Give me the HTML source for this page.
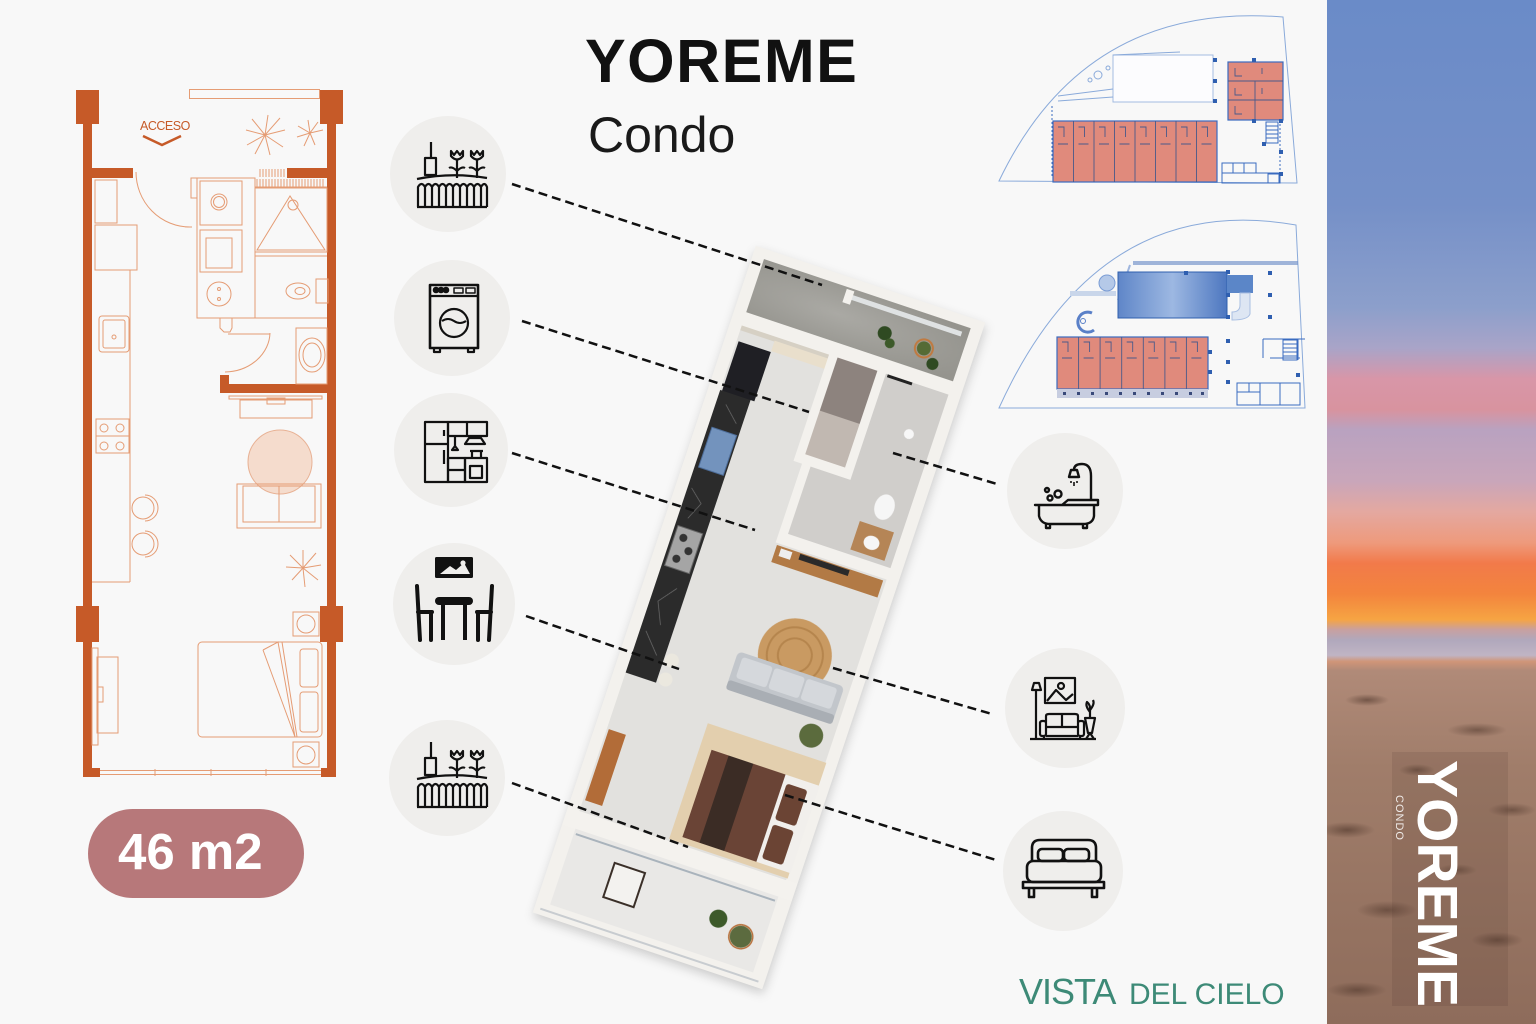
<!DOCTYPE html>
<html><head><meta charset="utf-8">
<style>
html,body{margin:0;padding:0;}
body{width:1536px;height:1024px;overflow:hidden;background:#f8f8f8;position:relative;font-family:"Liberation Sans",sans-serif;}
svg{position:absolute;left:0;top:0;}
#strip{position:absolute;left:1327px;top:0;width:209px;height:1024px;
background:linear-gradient(180deg,#6a8bc8 0%,#7590c8 20%,#8c9fcb 30%,#a9a4c8 34%,#d896a8 37%,#d8939f 40%,#b9a2c0 42%,#c9a6ba 47%,#e4a8a0 50%,#ee9a7c 53%,#f27a4a 55%,#f3843d 58%,#f6a443 60.5%,#c8a0a0 61.5%,#b0a8bc 62.5%,#c0b4c4 64%,#d09578 64.6%,#b08a78 65.5%,#a07d6a 75%,#8e6c5b 100%);}
#sand{position:absolute;left:1327px;top:660px;width:209px;height:364px;
background:
radial-gradient(ellipse 22px 6px at 40px 40px,rgba(60,38,28,.5),transparent),
radial-gradient(ellipse 30px 7px at 150px 70px,rgba(60,38,28,.45),transparent),
radial-gradient(ellipse 18px 6px at 90px 110px,rgba(60,38,28,.45),transparent),
radial-gradient(ellipse 28px 8px at 20px 170px,rgba(60,38,28,.5),transparent),
radial-gradient(ellipse 24px 7px at 185px 150px,rgba(60,38,28,.45),transparent),
radial-gradient(ellipse 30px 9px at 60px 250px,rgba(60,38,28,.45),transparent),
radial-gradient(ellipse 26px 8px at 170px 280px,rgba(60,38,28,.45),transparent),
radial-gradient(ellipse 30px 8px at 30px 330px,rgba(60,38,28,.45),transparent),
radial-gradient(ellipse 20px 6px at 130px 210px,rgba(60,38,28,.4),transparent);}
#panel{position:absolute;left:1392px;top:752px;width:116px;height:254px;background:rgba(70,45,35,.13);}
#render{position:absolute;left:638px;top:265.5px;width:242px;height:703px;transform:rotate(18.5deg);transform-origin:121px 351.5px;filter:drop-shadow(2px 4px 5px rgba(0,0,0,.18));}
#render svg{position:static;display:block;}
</style></head><body>
<div id="strip"></div>
<div id="sand"></div>
<div id="panel"></div>

<svg width="1536" height="1024" viewBox="0 0 1536 1024">
<defs>
<linearGradient id="poolg" x1="0" y1="0" x2="1" y2="0">
<stop offset="0" stop-color="#5f86c8"/><stop offset=".5" stop-color="#9db8e2"/><stop offset="1" stop-color="#4d77c0"/>
</linearGradient>
</defs>

<!-- LEFT PLAN -->
<g fill="#c65a28">
<rect x="83" y="120" width="9" height="657"/>
<rect x="327" y="120" width="9" height="657"/>
<rect x="76" y="90" width="23" height="34"/>
<rect x="320" y="90" width="23" height="34"/>
<rect x="76" y="606" width="23" height="36"/>
<rect x="320" y="606" width="23" height="36"/>
<rect x="92" y="168" width="41" height="10"/>
<rect x="287" y="168" width="40" height="10"/>
<rect x="220" y="384" width="107" height="9"/>
<rect x="220" y="375" width="9" height="18"/>
<rect x="83" y="768" width="17" height="9"/>
<rect x="321" y="768" width="15" height="9"/>
</g>
<circle cx="280" cy="462" r="32" fill="#f5dccd" stroke="#e8b295" stroke-width="1"/>
<g fill="none" stroke="#e59c74" stroke-width="1">
<rect x="189.5" y="89.5" width="130" height="9"/>
<path d="M136,172 A54,55 0 0 0 190,227 M185,227 H192"/>
<rect x="95" y="180" width="22" height="43"/>
<rect x="95" y="225" width="42" height="45"/>
<path d="M130,270 V582 M92,582 H130"/>
<rect x="99" y="316" width="30" height="36" rx="3"/>
<rect x="103" y="320" width="22" height="28" rx="2"/>
<circle cx="114" cy="337" r="2"/>
<rect x="96" y="419" width="33" height="34"/>
<circle cx="104" cy="428" r="4"/><circle cx="120" cy="428" r="4"/>
<circle cx="104" cy="446" r="4"/><circle cx="120" cy="446" r="4"/>
<path d="M96,436 H129"/>
<circle cx="143" cy="508" r="11"/><circle cx="143" cy="544" r="11"/>
<path d="M145,495 A13,13 0 0 1 145,521 M145,531 A13,13 0 0 1 145,557"/>
<rect x="197" y="178" width="58" height="140"/>
<rect x="200" y="181" width="42" height="44"/>
<circle cx="219" cy="202" r="8"/><circle cx="219" cy="202" r="5.5"/>
<rect x="200" y="230" width="42" height="42"/>
<rect x="206" y="238" width="26" height="30"/>
<circle cx="219" cy="294" r="12"/>
<circle cx="219" cy="289" r="1.5"/><circle cx="219" cy="299" r="1.5"/>
<rect x="191" y="178" width="6" height="20"/>
<path d="M220,318 V328 L224,332 H230 L232,328 V318"/>
<path d="M228,334 H270"/>
<path d="M270,333 A46,40 0 0 1 225,372"/>
<rect x="255" y="188" width="72" height="64"/>
<path d="M290,196 L257,250 H325 Z"/>
<circle cx="293" cy="205" r="5"/>
<path d="M255,256 H327 M255,318 H327"/>
<ellipse cx="298" cy="291" rx="12" ry="8"/><ellipse cx="300" cy="291" rx="5" ry="3.5"/>
<rect x="316" y="279" width="12" height="24"/>
<rect x="296" y="328" width="31" height="56"/>
<ellipse cx="312" cy="355" rx="13" ry="17"/><ellipse cx="312" cy="355" rx="9" ry="12"/>
<rect x="229" y="396" width="93" height="3"/>
<rect x="240" y="400" width="72" height="18"/>
<rect x="267" y="398" width="18" height="6"/>
<rect x="237" y="484" width="84" height="44"/>
<rect x="243" y="486" width="72" height="36"/>
<path d="M279,486 V522"/>
<rect x="293" y="612" width="26" height="24"/><circle cx="306" cy="624" r="9"/>
<rect x="293" y="742" width="26" height="25"/><circle cx="306" cy="755" r="9"/>
<rect x="198" y="642" width="124" height="95" rx="4"/>
<rect x="300" y="649" width="18" height="38" rx="3"/>
<rect x="300" y="692" width="18" height="40" rx="3"/>
<path d="M263,650 L278,642 L295,737 L263,650 M282,642 L297,737"/>
<rect x="97" y="657" width="21" height="76"/>
<rect x="92" y="648" width="6" height="97"/>
<rect x="97" y="687" width="6" height="15"/>
<path d="M100,770.5 H321 M100,774.5 H321 M155,769 V776 M211,769 V776 M266,769 V776"/>
<path d="M260,169 V177 M263,169 V177 M266,169 V177 M269,169 V177 M272,169 V177 M275,169 V177 M278,169 V177 M281,169 V177 M284,169 V177"/>
<path d="M257,179 V187 M260,179 V187 M263,179 V187 M266,179 V187 M269,179 V187 M272,179 V187 M275,179 V187 M278,179 V187 M281,179 V187 M284,179 V187 M287,179 V187 M290,179 V187 M293,179 V187 M296,179 V187 M299,179 V187 M302,179 V187 M305,179 V187 M308,179 V187 M311,179 V187 M314,179 V187 M317,179 V187 M320,179 V187 M323,179 V187 M255,187 H327"/>
<path d="M265,135 L285,130 M265,135 L280,118 M265,135 L268,115 M265,135 L252,119 M265,135 L246,130 M265,135 L247,145 M265,135 L255,154 M265,135 L270,155 M265,135 L283,147"/>
<path d="M310,133 L323,130 M310,133 L318,122 M310,133 L308,120 M310,133 L298,126 M310,133 L297,137 M310,133 L304,146 M310,133 L315,145"/>
<path d="M303,568 L321,565 M303,568 L316,553 M303,568 L303,550 M303,568 L290,555 M303,568 L286,567 M303,568 L292,580 M303,568 L305,587 M303,568 L318,580"/>
</g>
<text x="140" y="130" font-size="12.5" fill="#c65a28" letter-spacing="-0.5">ACCESO</text>
<path d="M143,136 L162,145 L181,136" fill="none" stroke="#c65a28" stroke-width="2.5"/>

<!-- 46 m2 pill -->
<rect x="88" y="809" width="216" height="89" rx="44.5" fill="#b7787a"/>
<text x="118" y="869" font-size="51" font-weight="bold" fill="#ffffff">46 m2</text>

<!-- TITLE -->
<text x="585" y="82" font-size="61" font-weight="bold" fill="#111" letter-spacing="1.5">YOREME</text>
<text x="588" y="152" font-size="50" fill="#1a1a1a">Condo</text>

<!-- ICON CIRCLES -->
<g fill="#efeeec">
<circle cx="448" cy="174" r="58"/>
<circle cx="452" cy="318" r="58"/>
<circle cx="451" cy="450" r="57"/>
<circle cx="454" cy="604" r="61"/>
<circle cx="447" cy="778" r="58"/>
<circle cx="1065" cy="491" r="58"/>
<circle cx="1065" cy="708" r="60"/>
<circle cx="1063" cy="871" r="60"/>
</g>

<!-- garden icons -->
<g fill="none" stroke="#111" stroke-width="2.2" stroke-linejoin="round">
<g transform="translate(417,142)">
<path d="M14,0 V16 M8,16 H19 V33 H8 Z"/>
<path d="M34,9 L37,13 L40,9 L43,13 L46,9 L46,14 Q40,21 34,14 Z M40,18 V36 M40,29 Q35,24 32,26 M40,29 Q45,24 48,26"/>
<path d="M54,9 L57,13 L60,9 L63,13 L66,9 L66,14 Q60,21 54,14 Z M60,18 V36 M60,29 Q55,24 52,26 M60,29 Q65,24 68,26"/>
<path d="M0,37 Q35,30 70,36"/>
<path d="M1,65 V45 Q4.5,39 8,45 V65 M8,45 Q11.5,39 15,45 V65 M15,45 Q18.5,39 22,45 V65 M22,45 Q25.5,39 29,45 V65 M29,45 Q32.5,39 36,45 V65 M36,45 Q39.5,39 43,45 V65 M43,45 Q46.5,39 50,45 V65 M50,45 Q53.5,39 57,45 V65 M57,45 Q60.5,39 64,45 V65 M64,45 Q67.5,39 70,45 V65 M0,65 H70"/>
</g>
<g transform="translate(417,742)">
<path d="M14,0 V16 M8,16 H19 V33 H8 Z"/>
<path d="M34,9 L37,13 L40,9 L43,13 L46,9 L46,14 Q40,21 34,14 Z M40,18 V36 M40,29 Q35,24 32,26 M40,29 Q45,24 48,26"/>
<path d="M54,9 L57,13 L60,9 L63,13 L66,9 L66,14 Q60,21 54,14 Z M60,18 V36 M60,29 Q55,24 52,26 M60,29 Q65,24 68,26"/>
<path d="M0,37 Q35,30 70,36"/>
<path d="M1,65 V45 Q4.5,39 8,45 V65 M8,45 Q11.5,39 15,45 V65 M15,45 Q18.5,39 22,45 V65 M22,45 Q25.5,39 29,45 V65 M29,45 Q32.5,39 36,45 V65 M36,45 Q39.5,39 43,45 V65 M43,45 Q46.5,39 50,45 V65 M50,45 Q53.5,39 57,45 V65 M57,45 Q60.5,39 64,45 V65 M64,45 Q67.5,39 70,45 V65 M0,65 H70"/>
</g>
<!-- washer -->
<g transform="translate(430,285)">
<rect x="0" y="0" width="48" height="63" stroke-width="2.6"/>
<path d="M0,11 H48"/>
<rect x="24" y="3" width="9" height="5" stroke-width="1.5"/><rect x="36" y="3" width="9" height="5" stroke-width="1.5"/>
<circle cx="24" cy="38" r="14"/>
<path d="M12,36 Q18,32 24,36 T36,36" stroke-width="2"/>
<path d="M4,63 V67 H10 V63 M38,63 V67 H44 V63"/>
</g>
<g fill="#111"><circle cx="436" cy="290" r="2.2"/><circle cx="441" cy="290" r="2.2"/><circle cx="446" cy="290" r="2.2"/></g>
<!-- kitchen -->
<g transform="translate(425,422)">
<rect x="0" y="0" width="23" height="60"/>
<path d="M0,22 H23 M19,8 V14 M19,28 V42"/>
<rect x="23" y="0" width="39" height="14"/>
<path d="M42,0 V14"/>
<path d="M40,22 L44,16 H56 L60,22 Z"/>
<path d="M30,14 V24 M27,28 L30,24 L33,28 Z"/>
<rect x="23" y="36" width="17" height="24"/>
<path d="M23,48 H40"/>
<rect x="40" y="36" width="22" height="24"/>
<rect x="45" y="44" width="12" height="12"/>
<path d="M47,36 V29 H56 V36 M45,29 H58"/>
</g>
</g>
<!-- dining -->
<g fill="#111">
<rect x="435" y="557" width="38" height="21" rx="1.5"/>
<rect x="435" y="597" width="38" height="8" rx="4"/>
<rect x="441" y="604" width="4" height="36"/>
<rect x="463" y="604" width="4" height="36"/>
</g>
<path d="M440,574 L450,566 L456,570 L464,563 L470,574 Z" fill="#efeeec"/>
<circle cx="463" cy="563" r="2.6" fill="#efeeec"/>
<g fill="none" stroke="#111" stroke-width="4" stroke-linecap="round">
<path d="M417,586 L420,640 M418,612 H432 M431,613 V640"/>
<path d="M492,586 L489,640 M491,612 H477 M478,613 V640"/>
</g>
<!-- bath icon -->
<g fill="none" stroke="#111" stroke-width="2.4" stroke-linejoin="round">
<path d="M1035,505 H1062 L1068,500 H1098 V505 H1035 Z"/>
<path d="M1039,506 V516 Q1041,524 1050,524 H1083 Q1093,524 1094,516 V506"/>
<path d="M1046,524 V528 H1050 V524 M1083,524 V528 H1087 V524"/>
<path d="M1091,500 V476 Q1091,464 1082,464 Q1074,464 1074,470"/>
<path d="M1069,477 L1071,470 H1077 L1079,477 Z"/>
<circle cx="1047" cy="490" r="2"/><circle cx="1050" cy="498" r="2.5"/><circle cx="1058" cy="494" r="3.5"/>
<path d="M1071,481 V483 M1074,482 V486 M1077,481 V483" stroke-width="1.6"/>
</g>
<!-- living icon -->
<g fill="none" stroke="#111" stroke-width="2.2" stroke-linejoin="round">
<rect x="1045" y="678" width="30" height="25"/>
<path d="M1047,701 L1056,690 L1066,700 L1073,694"/>
<circle cx="1061" cy="686" r="3"/>
<path d="M1030,739 H1096"/>
<path d="M1036,690 V739 M1032,690 L1034,683 H1039 L1041,690 Z"/>
<path d="M1046,722 V716 Q1046,714 1049,714 H1075 Q1078,714 1078,716 V722"/>
<rect x="1040" y="721" width="6" height="15" rx="2"/><rect x="1078" y="721" width="6" height="15" rx="2"/>
<path d="M1046,727 H1078 M1062,714 V727 M1046,736 H1078 M1044,736 V739 M1080,736 V739"/>
<path d="M1085,718 H1095 L1092,733 H1088 Z M1090,733 L1086,739 M1090,733 L1094,739"/>
<path d="M1090,718 V708 M1090,712 Q1085,706 1087,702 Q1091,705 1090,712 M1090,710 Q1095,704 1093,700"/>
</g>
<!-- bed icon -->
<g fill="none" stroke="#111" stroke-width="2.6" stroke-linejoin="round">
<path d="M1032,860 V848 Q1032,840 1040,840 H1088 Q1096,840 1096,848 V860"/>
<rect x="1038" y="849" width="25" height="12" rx="4"/>
<rect x="1064" y="849" width="25" height="12" rx="4"/>
<rect x="1027" y="861" width="74" height="21" rx="6"/>
<rect x="1023" y="882" width="81" height="6"/>
<path d="M1029,888 V897 H1034 V888 M1092,888 V897 H1097 V888"/>
</g>

<!-- SITE PLAN 1 -->
<g fill="none" stroke="#8aaada" stroke-width="1">
<path d="M999,181 Q1085,1 1283,17 L1297,183 Z"/>
<rect x="1113" y="55" width="100" height="47" fill="#fcfcfe" stroke="#a3bbe1"/>
<path d="M1058,96 L1113,89 M1058,101 L1113,97 M1113,55 L1180,52"/>
<circle cx="1098" cy="75" r="4"/><circle cx="1090" cy="80" r="2"/><circle cx="1108" cy="68" r="2"/>
</g>
<rect x="1053" y="121" width="164" height="61" fill="#e08a7c" stroke="#3a6bc0" stroke-width="1.2"/>
<g stroke="#4a5a8a" stroke-width="0.9" fill="none">
<path d="M1073.5,121 V182 M1094,121 V182 M1114.5,121 V182 M1135,121 V182 M1155.5,121 V182 M1176,121 V182 M1196.5,121 V182"/>
<path d="M1058,127 H1064 V137 M1078.5,127 H1084.5 V137 M1099,127 H1105 V137 M1119.5,127 H1125.5 V137 M1140,127 H1146 V137 M1160.5,127 H1166.5 V137 M1181,127 H1187 V137 M1201.5,127 H1207.5 V137"/>
<path d="M1058,144 H1068 M1078.5,144 H1088.5 M1099,144 H1109 M1119.5,144 H1129.5 M1140,144 H1150 M1160.5,144 H1170.5 M1181,144 H1191 M1201.5,144 H1211.5"/>
</g>
<rect x="1228" y="62" width="55" height="58" fill="#e08a7c" stroke="#3a6bc0" stroke-width="1.2"/>
<g stroke="#4a5a8a" stroke-width="0.9" fill="none">
<path d="M1228,81 H1283 M1228,100 H1283 M1255,81 V120 M1235,68 V76 H1242 M1235,88 V95 H1242 M1235,106 V114 H1242 M1262,68 V74 M1262,88 V94"/>
</g>
<g stroke="#3a6bc0" stroke-width="1" fill="none">
<path d="M1280,120 V183 M1052,106 V177" stroke-dasharray="2 2"/>
<rect x="1222" y="163" width="34" height="10"/>
<path d="M1233,163 V173 M1244,163 V173"/>
<rect x="1222" y="173" width="58" height="10"/>
<rect x="1268" y="174" width="11" height="9"/>
<rect x="1266" y="122" width="12" height="21"/>
<path d="M1266,126 H1278 M1266,130 H1278 M1266,134 H1278 M1266,138 H1278"/>
</g>
<g fill="#2f5fb0">
<rect x="1213" y="58" width="4" height="4"/><rect x="1213" y="79" width="4" height="4"/><rect x="1213" y="99" width="4" height="4"/>
<rect x="1252" y="58" width="4" height="4"/><rect x="1252" y="119" width="4" height="4"/><rect x="1279" y="119" width="4" height="4"/>
<rect x="1262" y="142" width="4" height="4"/><rect x="1279" y="150" width="4" height="4"/><rect x="1279" y="172" width="4" height="4"/>
</g>

<!-- SITE PLAN 2 -->
<g fill="none" stroke="#8aaada" stroke-width="1">
<path d="M999,408 Q1098,190 1296,225 L1305,408 Z"/>
</g>
<rect x="1133" y="261" width="165" height="4" fill="#6f8fc8" opacity=".65"/>
<path d="M1130,265 L1118,300" stroke="#9fb6de" stroke-width="2" fill="none"/>
<rect x="1070" y="291" width="46" height="5" fill="#c9d6ea"/>
<circle cx="1107" cy="283" r="8" fill="#b5c9e8" stroke="#7a9cd4"/>
<path d="M1092,313 A10,10 0 1 0 1094,330" fill="none" stroke="#5a80c8" stroke-width="3"/>
<circle cx="1083" cy="321" r="2.5" fill="none" stroke="#5a80c8"/>
<rect x="1118" y="272" width="109" height="46" fill="url(#poolg)" stroke="#2f5fae"/>
<rect x="1227" y="275" width="26" height="18" fill="#5b86c8"/>
<path d="M1240,293 H1250 V314 Q1248,320 1232,320 V312 Q1240,312 1240,305 Z" fill="#dde6f3" stroke="#a9bfe2"/>
<rect x="1057" y="337" width="151" height="52" fill="#e08a7c" stroke="#3a6bc0" stroke-width="1.2"/>
<g stroke="#4a5a8a" stroke-width="0.9" fill="none">
<path d="M1078.6,337 V389 M1100.1,337 V389 M1121.7,337 V389 M1143.3,337 V389 M1164.9,337 V389 M1186.4,337 V389"/>
<path d="M1062,342 H1068 V352 M1083.6,342 H1089.6 V352 M1105.1,342 H1111.1 V352 M1126.7,342 H1132.7 V352 M1148.3,342 H1154.3 V352 M1169.9,342 H1175.9 V352 M1191.4,342 H1197.4 V352"/>
<path d="M1062,358 H1072 M1083.6,358 H1093.6 M1105.1,358 H1115.1 M1126.7,358 H1136.7 M1148.3,358 H1158.3 M1169.9,358 H1179.9 M1191.4,358 H1201.4"/>
</g>
<rect x="1057" y="389" width="151" height="9" fill="#c7cde0"/>
<g fill="#3a4a7a">
<rect x="1063" y="392" width="3" height="3"/><rect x="1077" y="392" width="3" height="3"/><rect x="1091" y="392" width="3" height="3"/><rect x="1105" y="392" width="3" height="3"/><rect x="1119" y="392" width="3" height="3"/><rect x="1133" y="392" width="3" height="3"/><rect x="1147" y="392" width="3" height="3"/><rect x="1161" y="392" width="3" height="3"/><rect x="1175" y="392" width="3" height="3"/><rect x="1189" y="392" width="3" height="3"/><rect x="1201" y="392" width="3" height="3"/>
</g>
<g fill="#2f5fb0">
<rect x="1184" y="271" width="4" height="4"/><rect x="1226" y="270" width="4" height="4"/><rect x="1268" y="271" width="4" height="4"/>
<rect x="1226" y="293" width="4" height="4"/><rect x="1268" y="293" width="4" height="4"/>
<rect x="1226" y="315" width="4" height="4"/><rect x="1268" y="315" width="4" height="4"/>
<rect x="1226" y="339" width="4" height="4"/><rect x="1226" y="360" width="4" height="4"/><rect x="1226" y="380" width="4" height="4"/>
<rect x="1208" y="350" width="4" height="4"/><rect x="1208" y="370" width="4" height="4"/>
<rect x="1296" y="373" width="4" height="4"/>
</g>
<g stroke="#3a6bc0" stroke-width="1" fill="none">
<path d="M1263,339 H1305 M1263,339 V358 M1270,358 H1300 M1298,339 V360"/>
<rect x="1283" y="340" width="14" height="20"/>
<path d="M1283,344 H1297 M1283,348 H1297 M1283,352 H1297 M1283,356 H1297"/>
<rect x="1237" y="383" width="63" height="22"/>
<path d="M1237,392 H1260 M1249,383 V392 M1260,383 V405 M1280,383 V405"/>
</g>

<!-- VISTA DEL CIELO -->
<text x="1019" y="1004" font-size="36" fill="#3d8a77" letter-spacing="-1">VISTA</text>
<text x="1129" y="1004" font-size="30" fill="#3d8a77">DEL CIELO</text>
</svg>

<div id="render">
<svg width="242" height="703" viewBox="0 0 242 703">
<defs>
<radialGradient id="conc" cx=".4" cy=".5" r=".7"><stop offset="0" stop-color="#aaa9a4"/><stop offset="1" stop-color="#95948e"/></radialGradient>
</defs>
<rect x="0" y="0" width="242" height="703" fill="#f3f1ed"/>
<rect x="12" y="10" width="218" height="57" fill="url(#conc)"/>
<rect x="105" y="16" width="118" height="5" fill="#dfe2e3"/>
<rect x="100" y="12" width="8" height="14" fill="#f3f1ed"/>
<circle cx="150" cy="42" r="7" fill="#2f4a22"/>
<circle cx="158" cy="50" r="5" fill="#3d5a2a"/>
<circle cx="192" cy="44" r="9" fill="none" stroke="#c07a40" stroke-width="2"/>
<circle cx="192" cy="44" r="7" fill="#556b35"/>
<circle cx="205" cy="56" r="6" fill="#2f4a22"/>
<rect x="0" y="66" width="242" height="14" fill="#f3f1ed"/>
<rect x="12" y="80" width="218" height="515" fill="#e2e1de"/>
<rect x="12" y="80" width="92" height="5" fill="#d6d0c4"/>
<rect x="48" y="84" width="56" height="11" fill="#e9dfcc"/>
<rect x="14" y="96" width="34" height="52" fill="#1f1f24"/>
<rect x="12" y="148" width="32" height="298" fill="#2b2b2b"/>
<path d="M16,250 L30,262 L22,280 M34,350 L20,368 L30,390 M18,400 L36,420 M22,160 L38,175" stroke="#8a8a8a" stroke-width=".7" fill="none" opacity=".7"/>
<rect x="16" y="186" width="26" height="42" fill="#7393bd" stroke="#4d6d99"/>
<rect x="15" y="290" width="26" height="42" fill="#a5a5a5" stroke="#666"/>
<circle cx="24" cy="300" r="4" fill="#333"/><circle cx="33" cy="311" r="4" fill="#333"/><circle cx="24" cy="322" r="4" fill="#333"/>
<circle cx="52" cy="420" r="7" fill="#ebe8df"/><circle cx="52" cy="440" r="7" fill="#ebe8df"/>
<rect x="113" y="80" width="42" height="56" fill="#8d837e"/>
<rect x="113" y="136" width="42" height="46" fill="#c1b8b1"/>
<rect x="104" y="80" width="9" height="112" fill="#f3f1ed"/>
<rect x="155" y="80" width="9" height="112" fill="#f3f1ed"/>
<rect x="104" y="182" width="60" height="10" fill="#f3f1ed"/>
<rect x="164" y="80" width="66" height="185" fill="#d0cecb"/>
<rect x="122" y="192" width="42" height="73" fill="#d0cecb"/>
<rect x="113" y="192" width="9" height="80" fill="#f3f1ed"/>
<rect x="113" y="263" width="117" height="12" fill="#f3f1ed"/>
<rect x="166" y="80" width="26" height="3" fill="#222"/>
<circle cx="205" cy="130" r="5" fill="#f7f7f7"/>
<ellipse cx="205" cy="207" rx="10" ry="13" fill="#f6f6f6"/>
<rect x="186" y="228" width="36" height="30" fill="#b58556"/>
<ellipse cx="204" cy="245" rx="8" ry="7" fill="#f6f6f6"/>
<rect x="115" y="277" width="112" height="18" fill="#b27a45"/>
<rect x="140" y="278" width="52" height="6" fill="#2a2a2a"/>
<rect x="120" y="279" width="12" height="8" fill="#eee"/>
<circle cx="167" cy="376" r="37" fill="#c99a62"/>
<circle cx="167" cy="376" r="28" fill="none" stroke="#b5854d" stroke-width="2"/>
<circle cx="167" cy="376" r="17" fill="none" stroke="#b5854d" stroke-width="2"/>
<rect x="112" y="390" width="112" height="40" rx="5" fill="#c2c6cb"/>
<rect x="112" y="420" width="112" height="10" rx="3" fill="#a9aeb4"/>
<rect x="118" y="394" width="32" height="22" rx="3" fill="#d5d8dc"/>
<rect x="152" y="394" width="32" height="22" rx="3" fill="#d5d8dc"/>
<rect x="186" y="394" width="32" height="22" rx="3" fill="#d5d8dc"/>
<circle cx="208" cy="447" r="12" fill="#5b6b3d"/>
<rect x="106" y="468" width="125" height="122" fill="#e3cfae"/>
<rect x="118" y="492" width="114" height="92" fill="#f1efec"/>
<rect x="118" y="492" width="78" height="92" fill="#6a4436"/>
<rect x="136" y="492" width="26" height="92" fill="#3b2c25"/>
<rect x="200" y="500" width="22" height="38" rx="3" fill="#6b4434"/>
<rect x="200" y="543" width="22" height="36" rx="3" fill="#6b4434"/>
<rect x="14" y="505" width="18" height="75" fill="#b26c38"/>
<rect x="0" y="592" width="242" height="18" fill="#f4f2ee"/>
<rect x="14" y="610" width="214" height="80" fill="#e9e8e6"/>
<path d="M16,615 H226" stroke="#a9b3bc" stroke-width="2"/>
<rect x="62" y="630" width="32" height="36" fill="#f3f2ef" stroke="#3a2f28" stroke-width="2"/>
<circle cx="178" cy="650" r="9" fill="#3d5a2a"/>
<circle cx="205" cy="660" r="11" fill="#5c6b3f"/>
<circle cx="205" cy="660" r="12" fill="none" stroke="#b8713c" stroke-width="1.5"/>
<path d="M6,697 H236" stroke="#c8ccd0" stroke-width="2"/>
</svg>
</div>

<svg width="1536" height="1024" viewBox="0 0 1536 1024">
<g stroke="#111" stroke-width="2.5" stroke-dasharray="9 5" fill="none">
<path d="M512,184 L822,285"/>
<path d="M522,321 L809,412"/>
<path d="M512,453 L755,530"/>
<path d="M526,616 L679,669"/>
<path d="M512,783 L688,847"/>
<path d="M893,453 L997,484"/>
<path d="M833,668 L992,714"/>
<path d="M785,795 L996,860"/>
</g>
<text transform="translate(1418,760) rotate(90)" font-size="57" font-weight="bold" fill="#ffffff">YOREME</text>
<text transform="translate(1396,795) rotate(90)" font-size="11" fill="#ffffff" opacity=".85" letter-spacing="1">CONDO</text>
</svg>
</body></html>
